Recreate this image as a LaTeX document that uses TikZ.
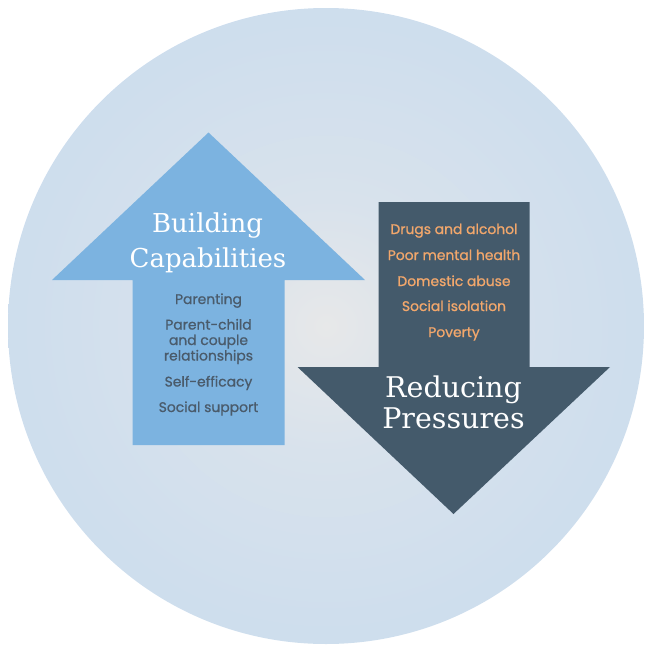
\documentclass[tikz,border=0pt]{standalone}
\usepackage{fontspec}
\setmainfont{Poppins}[FakeBold=0.9]
\newfontfamily\titlefont{DejaVu Serif}
\definecolor{upblue}{HTML}{7CB3E0}
\definecolor{downslate}{HTML}{445A6B}
\definecolor{orangetxt}{HTML}{F2A76B}
\definecolor{darktxt}{HTML}{4A5B6B}
\definecolor{bgin}{HTML}{E7E8E9}
\definecolor{bgmid}{HTML}{D8E2EC}
\definecolor{bgring}{HTML}{CADCEE}
\definecolor{bgout}{HTML}{D5E6F5}
\pgfdeclareradialshading{bgshade}{\pgfpoint{0bp}{0bp}}{color(0bp)=(bgin); color(10bp)=(bgmid); color(30bp)=(bgring); color(50bp)=(bgout)}
\tikzset{
  lbl/.style={anchor=base, inner sep=0pt, font=\fontsize{13.9}{16}\selectfont},
  uplbl/.style={lbl, text=darktxt},
  downlbl/.style={lbl, text=orangetxt},
  ttl/.style={anchor=base, inner sep=0pt, text=white, font=\titlefont\fontsize{26}{33}\selectfont},
  bigttl/.style={ttl, font=\titlefont\fontsize{28.5}{33}\selectfont}
}
\begin{document}
\begin{tikzpicture}[x=1pt,y=-1pt]
\useasboundingbox (0,0) rectangle (646,646);
\shade[shading=bgshade] (326,326) circle (318);
% up arrow
\fill[upblue] (208.5,132.5) -- (365,280) -- (284.5,280) -- (284.5,445) -- (132.5,445) -- (132.5,280) -- (52,280) -- cycle;
% down arrow
\fill[downslate] (378.5,202) -- (529.5,202) -- (529.5,367) -- (610,367) -- (453.5,514) -- (297.5,367) -- (378.5,367) -- cycle;
% titles
\node[ttl] (b1) at (207.5,232) {Building};
\node[ttl] (b2) at (208,267) {Capabilities};
\node[bigttl] (r1) at (453.5,397) {Reducing};
\node[bigttl] (r2) at (453.5,428.5) {Pressures};
% up labels
\node[uplbl] (u1) at (208.5,304) {Parenting};
\node[uplbl] (u2) at (208.5,329.5) {Parent-child};
\node[uplbl] (u3) at (208.5,345) {and couple};
\node[uplbl] (u4) at (208.5,360.5) {relationships};
\node[uplbl] (u5) at (208.5,386.5) {Self-efficacy};
\node[uplbl] (u6) at (208.5,412) {Social support};
% down labels
\node[downlbl] (d1) at (454,234) {Drugs and alcohol};
\node[downlbl] (d2) at (454,260) {Poor mental health};
\node[downlbl] (d3) at (454,286) {Domestic abuse};
\node[downlbl] (d4) at (454,311) {Social isolation};
\node[downlbl] (d5) at (454,337) {Poverty};
\end{tikzpicture}
\end{document}
